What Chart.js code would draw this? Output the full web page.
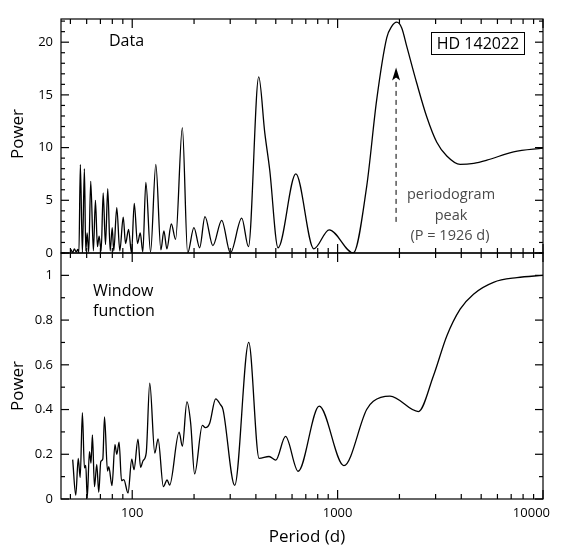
<!DOCTYPE html>
<html>
<head>
<meta charset="utf-8">
<script src="https://cdn.jsdelivr.net/npm/chart.js@4"></script>
<style>
    body { margin: 0; background: #fff; }
    canvas { display: block; }
</style>
</head>
<body>
<canvas id="periodogram" width="561" height="555"></canvas>
<script>
// periodogram of the RV data (period in days, power)
const dataPeriod = [50.2, 51.3, 52.3, 53.3, 54.3, 55.0, 55.9, 57.2, 58.5, 59.4, 60.3, 61.4, 62.8, 64.7, 66.2, 67.7, 69.0, 70.6, 72.2, 74.1, 76.0, 78.1, 79.9, 81.3, 84.1, 87.0, 90.4, 92.8, 96.0, 99.2, 102.3, 106.1, 109.4, 112.6, 116.5, 122.8, 130.3, 137.9, 142.6, 147.5, 155.0, 162.6, 175.4, 186.1, 199.7, 213, 226, 247, 272.7, 300.6, 341.4, 368, 413, 442, 467, 513, 626, 766, 910, 1192, 1385, 1549, 1734, 1834, 1940, 2052, 2171, 2429, 2718, 3040, 3401, 3950, 4600, 5331, 7188, 10000];
const dataPower = [0.35, 0.05, 0.4, 0.1, 0.35, 0.0, 8.4, 0.0, 8.0, 0.2, 1.9, 0.1, 6.8, 0.2, 5.0, 0.6, 1.6, 0.2, 5.7, 0.8, 6.1, 0.2, 2.4, 0.2, 4.3, 0.2, 3.4, 0.9, 2.25, 0.0, 4.7, 0.9, 1.9, 0.1, 6.7, 0.1, 8.4, 0.3, 2.1, 0.4, 2.75, 1.3, 11.9, 0.0, 2.4, 0.5, 3.45, 0.7, 3.1, 0.0, 3.3, 0.6, 16.7, 11.4, 7.9, 0.5, 7.5, 0.4, 2.2, 0.0, 6.3, 14.5, 20.4, 21.5, 21.9, 21.35, 19.6, 16.1, 12.9, 10.5, 9.2, 8.4, 8.5, 8.8, 9.6, 9.95];

// window function
const windowPeriod = [51.3, 53.1, 54.6, 55.8, 57.2, 58.5, 59.4, 60.4, 61.9, 63.0, 64.0, 65.5, 67.2, 68.7, 70.3, 71.9, 73.3, 75.8, 76.9, 79.7, 82.4, 84.1, 86.3, 88.7, 91.0, 95.4, 99.5, 102.0, 106.7, 109.8, 112.9, 117.0, 121.7, 128.8, 133.6, 141.8, 147.8, 152.1, 169.2, 175.4, 184.6, 192.5, 201.3, 219.5, 227.0, 238.3, 254.9, 268.8, 276.7, 315.5, 369.2, 414.6, 463.8, 500, 557.7, 642.5, 813.4, 1073, 1385, 1492, 1799, 2473, 2926, 3401, 3950, 4587, 5741, 7467, 10000];
const windowPower = [0.176, 0.017, 0.182, 0.096, 0.386, 0.139, 0.15, 0.005, 0.212, 0.16, 0.287, 0.055, 0.155, 0.03, 0.168, 0.179, 0.367, 0.125, 0.145, 0.06, 0.243, 0.2, 0.254, 0.082, 0.087, 0.027, 0.178, 0.131, 0.268, 0.141, 0.171, 0.206, 0.518, 0.205, 0.269, 0.055, 0.085, 0.062, 0.299, 0.236, 0.434, 0.34, 0.112, 0.329, 0.319, 0.339, 0.448, 0.422, 0.4, 0.061, 0.70, 0.182, 0.19, 0.174, 0.28, 0.124, 0.415, 0.149, 0.4, 0.437, 0.46, 0.391, 0.55, 0.729, 0.849, 0.916, 0.969, 0.99, 1.0];

const xTickLabels = [100, 1000, 10000];
const dataTicks = [0, 5, 10, 15, 20];
const windowTicks = [0, 0.2, 0.4, 0.6, 0.8, 1];
const peakPeriod = 1926;

const FONT = "'Open Sans', 'Noto Sans', sans-serif";

const toPoints = (xs, ys) => xs.map((x, i) => ({ x: x, y: ys[i] }));

// minor ticks on the log axis: 2..9 times each decade
const xMinor = [];
[10, 100, 1000].forEach(d => {
    for (let k = 2; k <= 9; k++) {
        if (d * k >= 45 && d * k <= 10000) xMinor.push(d * k);
    }
});

const line = (ctx, x1, y1, x2, y2) => {
    ctx.beginPath();
    ctx.moveTo(x1, y1);
    ctx.lineTo(x2, y2);
    ctx.stroke();
};

const framePlugin = {
    id: "frame",
    afterDraw(chart) {
        const ctx = chart.ctx;
        const xs = chart.scales.x;
        const yd = chart.scales.yData;
        const yw = chart.scales.yWin;
        const left = chart.chartArea.left;
        const right = chart.chartArea.right;

        ctx.save();
        ctx.strokeStyle = "#000";
        ctx.fillStyle = "#000";
        ctx.lineWidth = 1.2;

        const panels = [
            { scale: yd, major: dataTicks, minorStep: 1, max: 22.2 },
            { scale: yw, major: windowTicks, minorStep: 0.1, max: 1.1 }
        ];

        panels.forEach(p => {
            const top = p.scale.top;
            const bottom = p.scale.bottom;
            ctx.strokeRect(left, top, right - left, bottom - top);

            // x ticks, inward at top and bottom of each panel
            xTickLabels.forEach(v => {
                const px = xs.getPixelForValue(v);
                line(ctx, px, top, px, top + 9);
                line(ctx, px, bottom, px, bottom - 9);
            });
            xMinor.forEach(v => {
                const px = xs.getPixelForValue(v);
                line(ctx, px, top, px, top + 5);
                line(ctx, px, bottom, px, bottom - 5);
            });

            // y ticks, inward on both sides
            for (let v = 0; v <= p.max + 1e-9; v += p.minorStep) {
                const py = p.scale.getPixelForValue(v);
                const isMajor = p.major.some(m => Math.abs(m - v) < 1e-6);
                const len = isMajor ? 8 : 4;
                line(ctx, left, py, left + len, py);
                line(ctx, right, py, right - len, py);
            }

            ctx.font = "13px " + FONT;
            ctx.textAlign = "right";
            ctx.textBaseline = "middle";
            p.major.forEach(v => {
                ctx.fillText(String(v), left - 8, p.scale.getPixelForValue(v));
            });
        });

        // x tick labels
        ctx.font = "13px " + FONT;
        ctx.textAlign = "center";
        ctx.textBaseline = "middle";
        xTickLabels.forEach(v => {
            const label = String(v);
            let px = xs.getPixelForValue(v);
            const w = ctx.measureText(label).width;
            if (px + w / 2 > 550) px = 550 - w / 2;
            ctx.fillText(label, px, yw.bottom + 14);
        });

        // axis titles
        ctx.font = "17px " + FONT;
        ctx.fillText("Period (d)", 307, 537);
        [[yd, 134], [yw, 386]].forEach(([s, cy]) => {
            ctx.save();
            ctx.translate(18, cy);
            ctx.rotate(-Math.PI / 2);
            ctx.fillText("Power", 0, 0);
            ctx.restore();
        });

        // panel labels
        ctx.font = "16px " + FONT;
        ctx.textAlign = "left";
        ctx.textBaseline = "alphabetic";
        ctx.fillText("Data", 109, 46);
        ctx.fillText("Window", 93, 296);
        ctx.fillText("function", 93, 316);

        // star name box
        ctx.lineWidth = 1;
        ctx.strokeRect(431.5, 32.5, 93, 22);
        ctx.textAlign = "center";
        ctx.textBaseline = "middle";
        ctx.fillText("HD 142022", 478, 44);

        // arrow to the periodogram peak
        const ax = xs.getPixelForValue(peakPeriod);
        const yTip = yd.getPixelForValue(17.6);
        const yBase = yd.getPixelForValue(2.95);
        ctx.setLineDash([5, 4]);
        ctx.lineWidth = 1;
        line(ctx, ax, yBase, ax, yTip + 10);
        ctx.setLineDash([]);
        ctx.beginPath();
        ctx.moveTo(ax, yTip);
        ctx.lineTo(ax - 4, yTip + 13);
        ctx.lineTo(ax, yTip + 10);
        ctx.lineTo(ax + 4, yTip + 13);
        ctx.closePath();
        ctx.fill();

        ctx.fillStyle = "#4a4a4a";
        ctx.font = "14.5px " + FONT;
        ctx.textBaseline = "alphabetic";
        ctx.fillText("periodogram", 451, 199);
        ctx.fillText("peak", 451, 220);
        ctx.fillText("(P = " + peakPeriod + " d)", 450, 240);

        ctx.restore();
    }
};

const lineStyle = {
    borderColor: "#000",
    borderWidth: 1.3,
    pointRadius: 0,
    fill: false,
    cubicInterpolationMode: "monotone"
};

const chart = new Chart(document.getElementById("periodogram"), {
    type: "line",
    data: {
        datasets: [
            Object.assign({ label: "Data", data: toPoints(dataPeriod, dataPower), yAxisID: "yData" }, lineStyle),
            Object.assign({ label: "Window function", data: toPoints(windowPeriod, windowPower), yAxisID: "yWin" }, lineStyle)
        ]
    },
    options: {
        responsive: false,
        animation: false,
        events: [],
        layout: { padding: { left: 61, right: 18, top: 19, bottom: 56 } },
        plugins: {
            legend: { display: false },
            tooltip: { enabled: false }
        },
        scales: {
            x: { type: "logarithmic", min: 45, max: 10000, display: false },
            // later-defined axis in a stack goes on top
            yWin: { type: "linear", position: "left", min: 0, max: 1.1, stack: "power", stackWeight: 246, display: false },
            yData: { type: "linear", position: "left", min: 0, max: 22.2, stack: "power", stackWeight: 234, display: false }
        }
    },
    plugins: [framePlugin]
});
</script>
</body>
</html>
